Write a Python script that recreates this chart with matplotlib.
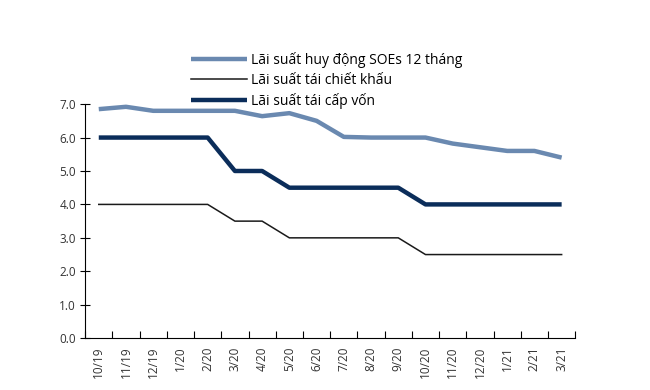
import matplotlib.pyplot as plt
import numpy as np

months = ['10/19', '11/19', '12/19', '1/20', '2/20', '3/20', '4/20', '5/20', '6/20',
          '7/20', '8/20', '9/20', '10/20', '11/20', '12/20', '1/21', '2/21', '3/21']
soe_rate = [6.85, 6.92, 6.8, 6.8, 6.8, 6.8, 6.64, 6.73, 6.5,
            6.02, 6.0, 6.0, 6.0, 5.82, 5.71, 5.6, 5.6, 5.4]
discount_rate = [4.0, 4.0, 4.0, 4.0, 4.0, 3.5, 3.5, 3.0, 3.0,
                 3.0, 3.0, 3.0, 2.5, 2.5, 2.5, 2.5, 2.5, 2.5]
refin_rate = [6.0, 6.0, 6.0, 6.0, 6.0, 5.0, 5.0, 4.5, 4.5,
              4.5, 4.5, 4.5, 4.0, 4.0, 4.0, 4.0, 4.0, 4.0]

plt.rcParams['font.family'] = ['Open Sans', 'DejaVu Sans']

fig = plt.figure(figsize=(6.5, 3.9), dpi=100)
ax = fig.add_axes([0.131, 0.133, 0.754, 0.600])

x = np.arange(len(months)) + 0.5
l1, = ax.plot(x, soe_rate, color='#6A89B0', lw=3.2, solid_capstyle='butt')
l2, = ax.plot(x, discount_rate, color='#1a1a1a', lw=1.1)
l3, = ax.plot(x, refin_rate, color='#0B2D5A', lw=3.2, solid_capstyle='butt')

ax.set_xlim(0, len(months))
ax.set_ylim(0, 7)
ax.set_yticks(np.arange(0, 7.1, 1.0))
ax.set_yticklabels([f'{v:.1f}' for v in np.arange(0, 7.1, 1.0)])
ax.set_xticks(np.arange(0, len(months) + 1))
ax.set_xticklabels([])
ax.set_xticks(x, minor=True)
ax.set_xticklabels(months, minor=True, rotation=90)
ax.tick_params(axis='x', which='major', direction='in', length=5, width=0.8)
ax.tick_params(axis='x', which='minor', length=0, pad=6, labelsize=8.5, labelcolor='#333333')
ax.tick_params(axis='y', direction='inout', length=7, width=0.8, labelsize=8.5,
               labelcolor='#333333', pad=3)

for s in ['top', 'right']:
    ax.spines[s].set_visible(False)
for s in ['left', 'bottom']:
    ax.spines[s].set_linewidth(0.8)

fig.legend([l1, l2, l3],
           ['Lãi suất huy động SOEs 12 tháng', 'Lãi suất tái chiết khấu', 'Lãi suất tái cấp vốn'],
           loc='upper left', bbox_to_anchor=(0.275, 0.9), frameon=False,
           fontsize=10, handlelength=4.0, handletextpad=0.3, labelspacing=0.38)

fig.savefig('out.png', dpi=100)
